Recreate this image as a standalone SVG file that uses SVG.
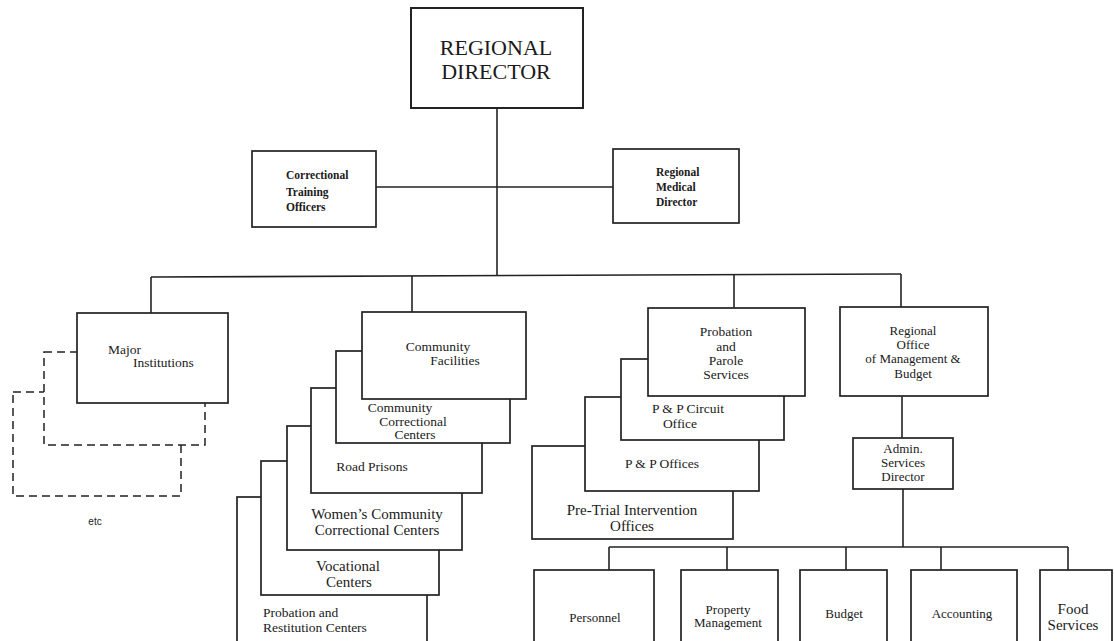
<svg xmlns="http://www.w3.org/2000/svg" width="1114" height="641" viewBox="0 0 1114 641" font-family="'Liberation Serif', 'Times New Roman', serif">
<style>
.b{fill:#fff;stroke:#222;stroke-width:1.7}
.d{fill:#fff;stroke:#222;stroke-width:1.5;stroke-dasharray:8 5}
.c line{stroke:#222;stroke-width:1.6;fill:none}
text{font-family:'Liberation Serif','Times New Roman',serif;fill:#1a1a1a;font-size:13.5px}
.m{text-anchor:middle}
.bd{font-weight:bold;font-size:11.5px}
.lg{font-size:15px}
.t{font-size:22px}
.s{font-family:'Liberation Sans',Arial,sans-serif;font-size:10px}
</style>
<rect width="1114" height="641" fill="#fff"/>
<g class="c" id="connectors">
<line x1="497" y1="108" x2="497" y2="276"/>
<line x1="376" y1="187" x2="613" y2="187"/>
<line x1="151" y1="277" x2="901" y2="274"/>
<line x1="151" y1="277" x2="151" y2="313"/>
<line x1="412" y1="276" x2="412" y2="312"/>
<line x1="734" y1="275" x2="734" y2="308"/>
<line x1="901" y1="274" x2="901" y2="307"/>
<line x1="902" y1="396" x2="902" y2="438"/>
<line x1="903" y1="489" x2="903" y2="547"/>
<line x1="609" y1="547" x2="1068" y2="547"/>
<line x1="609" y1="547" x2="609" y2="570"/>
<line x1="727" y1="547" x2="727" y2="570"/>
<line x1="846" y1="547" x2="846" y2="570"/>
<line x1="941" y1="547" x2="941" y2="570"/>
<line x1="1068" y1="547" x2="1068" y2="570"/>
</g>
<g id="regional-director">
<rect class="b" x="411" y="8" width="172" height="100" style="stroke-width:2"/>
<text class="m t" x="496" y="55">REGIONAL</text>
<text class="m t" x="496" y="79">DIRECTOR</text>
</g>
<g id="training-officers">
<rect class="b" x="252" y="151" width="124" height="76"/>
<text class="bd" x="286" y="179">Correctional</text>
<text class="bd" x="286" y="196">Training</text>
<text class="bd" x="286" y="211">Officers</text>
</g>
<g id="medical-director">
<rect class="b" x="613" y="149" width="126" height="74"/>
<text class="bd" x="656" y="176">Regional</text>
<text class="bd" x="656" y="191">Medical</text>
<text class="bd" x="656" y="206">Director</text>
</g>
<g id="major-institutions">
<rect class="d" x="13" y="392" width="168" height="104"/>
<rect class="d" x="44" y="352" width="161" height="93"/>
<rect class="b" x="77" y="313" width="151" height="90"/>
<text x="108" y="354">Major</text>
<text x="133" y="367">Institutions</text>
</g>
<g id="etc">
<text x="95" y="525" class="m s">etc</text>
</g>
<g id="probation-restitution">
<rect class="b" x="237" y="497" width="190" height="160"/>
<text x="263" y="617">Probation and</text>
<text x="263" y="632">Restitution Centers</text>
</g>
<g id="vocational">
<rect class="b" x="261" y="461" width="178" height="134"/>
<text class="m lg" x="348" y="571">Vocational</text>
<text class="m lg" x="349" y="587">Centers</text>
</g>
<g id="womens">
<rect class="b" x="287" y="426" width="175" height="124"/>
<text class="m lg" x="377" y="519">Women’s Community</text>
<text class="m lg" x="377" y="535">Correctional Centers</text>
</g>
<g id="road-prisons">
<rect class="b" x="311" y="388" width="171" height="105"/>
<text class="m" x="372" y="471">Road Prisons</text>
</g>
<g id="ccc">
<rect class="b" x="336" y="351" width="174" height="92"/>
<text class="m" x="400" y="412">Community</text>
<text class="m" x="413" y="426">Correctional</text>
<text class="m" x="415" y="439">Centers</text>
</g>
<g id="community-facilities">
<rect class="b" x="362" y="312" width="164" height="87"/>
<text class="m" x="438" y="351">Community</text>
<text class="m" x="455" y="365">Facilities</text>
</g>
<g id="pretrial">
<rect class="b" x="532" y="446" width="201" height="93"/>
<text class="m lg" x="632" y="515">Pre-Trial Intervention</text>
<text class="m lg" x="632" y="531">Offices</text>
</g>
<g id="pp-offices">
<rect class="b" x="585" y="397" width="174" height="94"/>
<text class="m" x="662" y="468">P &amp; P Offices</text>
</g>
<g id="pp-circuit">
<rect class="b" x="621" y="359" width="163" height="81"/>
<text class="m" x="688" y="413">P &amp; P Circuit</text>
<text class="m" x="680" y="428">Office</text>
</g>
<g id="probation-parole">
<rect class="b" x="648" y="308" width="157" height="88"/>
<text class="m" x="726" y="336">Probation</text>
<text class="m" x="726" y="351">and</text>
<text class="m" x="726" y="365">Parole</text>
<text class="m" x="726" y="379">Services</text>
</g>
<g id="romb">
<rect class="b" x="840" y="307" width="148" height="89"/>
<text class="m" x="913" y="335" style="font-size:13px">Regional</text>
<text class="m" x="913" y="349" style="font-size:13px">Office</text>
<text class="m" x="913" y="363" style="font-size:13px">of Management &amp;</text>
<text class="m" x="913" y="378" style="font-size:13px">Budget</text>
</g>
<g id="admin">
<rect class="b" x="853" y="438" width="100" height="51"/>
<text class="m" x="903" y="453" style="font-size:13px">Admin.</text>
<text class="m" x="903" y="467" style="font-size:13px">Services</text>
<text class="m" x="903" y="481" style="font-size:13px">Director</text>
</g>
<g id="personnel">
<rect class="b" x="534" y="570" width="120" height="90"/>
<text class="m" x="595" y="622" style="font-size:13px">Personnel</text>
</g>
<g id="property">
<rect class="b" x="681" y="570" width="97" height="90"/>
<text class="m" x="728" y="614" style="font-size:13px">Property</text>
<text class="m" x="728" y="627" style="font-size:13px">Management</text>
</g>
<g id="budget">
<rect class="b" x="800" y="570" width="87" height="90"/>
<text class="m" x="844" y="618" style="font-size:13px">Budget</text>
</g>
<g id="accounting">
<rect class="b" x="911" y="570" width="106" height="90"/>
<text class="m" x="962" y="618" style="font-size:13px">Accounting</text>
</g>
<g id="food">
<rect class="b" x="1040" y="570" width="72" height="90"/>
<text class="m lg" x="1073" y="614">Food</text>
<text class="m lg" x="1073" y="630">Services</text>
</g>
</svg>
